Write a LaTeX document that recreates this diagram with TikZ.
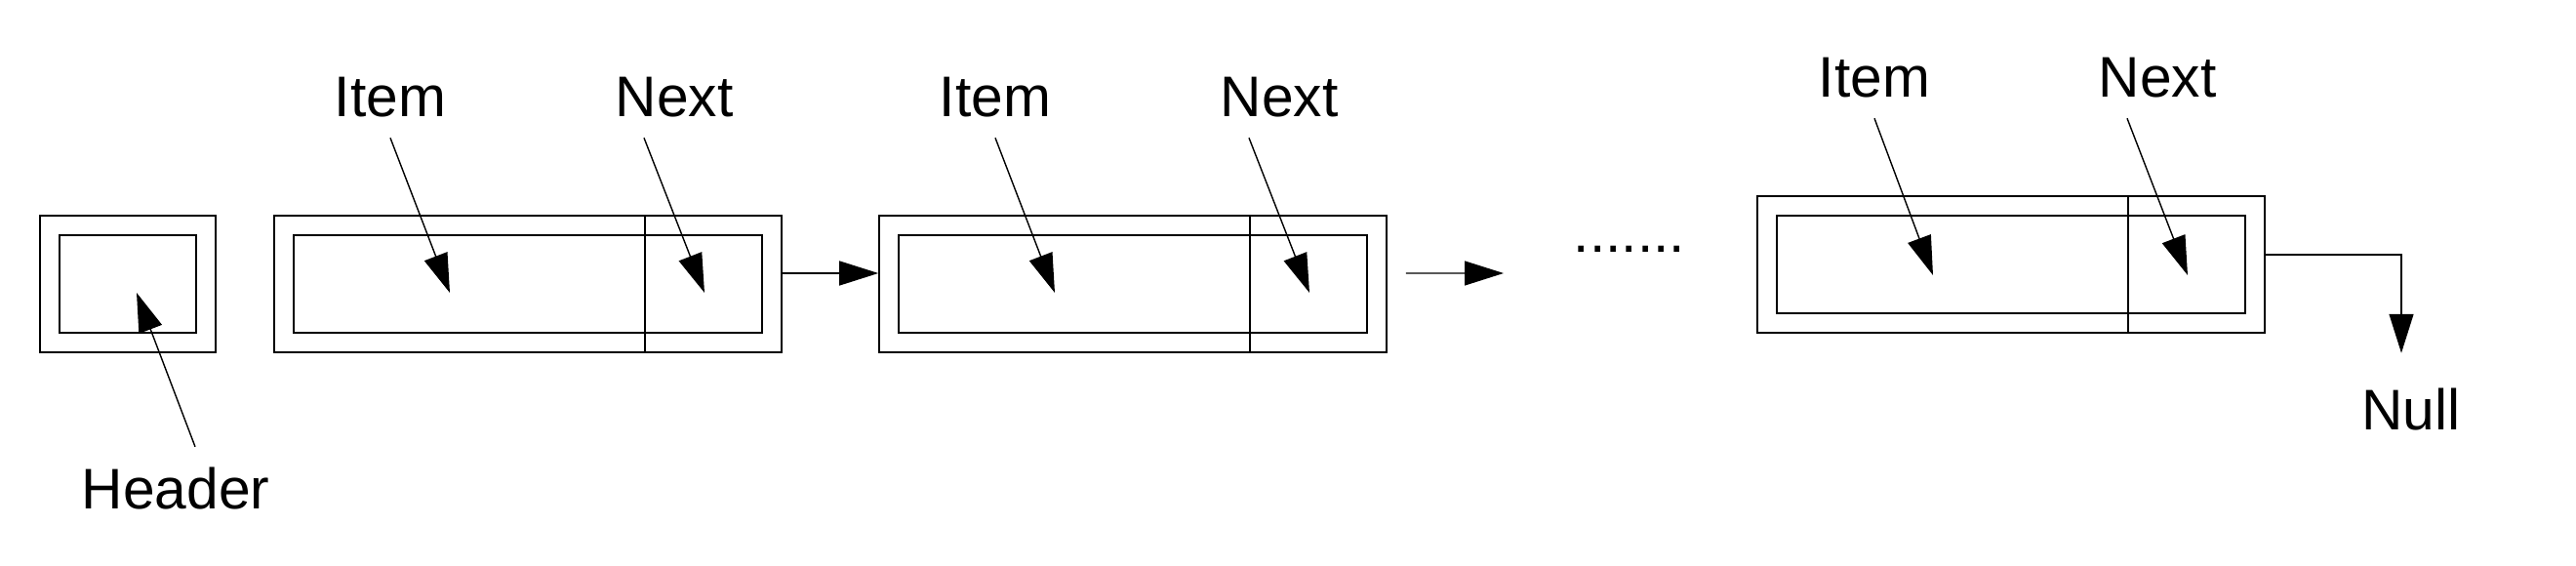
\documentclass[tikz,border=0pt]{standalone}
\usepackage{fontspec}
\setmainfont{Liberation Sans}
\usetikzlibrary{arrows.meta}

\tikzset{
  cell/.style={draw,line width=0.45pt,inner sep=0pt,minimum height=1.4cm},
  cellin/.style={draw,line width=0.45pt,inner sep=0pt,minimum height=1.0cm},
  lbl/.style={font=\fontsize{16.7pt}{20pt}\selectfont,inner sep=2mm,anchor=base},
  ptr/.style={-{Triangle[length=4mm,width=2.5mm]},line width=0.4pt},
}

\begin{document}
\begin{tikzpicture}
\useasboundingbox (0,0) rectangle (26.4,5.8);
% header
\node[cell,minimum width=1.8cm] (hdr) at (1.31,2.89) {};
\node[cellin,minimum width=1.4cm] (hdrin) at (hdr) {};
\node[lbl] (hdrlbl) at (1.80,0.59) {Header};
\coordinate (hdrtip) at (1.40,2.80);
\draw[ptr] ([xshift=2mm]hdrlbl.north) -- (hdrtip);
% first cell
\node[cell,minimum width=5.2cm] (n1) at (5.41,2.89) {};
\node[cellin,minimum width=4.8cm] (n1in) at (n1) {};
\draw[line width=0.45pt] ([xshift=1.2cm]n1.north) -- ([xshift=1.2cm]n1.south);
\node[lbl] (item1) at (4.00,4.60) {Item};
\node[lbl] (next1) at (6.91,4.60) {Next};
\coordinate (item1tip) at (4.61,2.80);
\coordinate (next1tip) at (7.22,2.80);
\draw[ptr] (item1.south) -- (item1tip);
\draw[ptr] ([xshift=-3.1mm]next1.south) -- (next1tip);
% second cell
\node[cell,minimum width=5.2cm] (n2) at (11.61,2.89) {};
\node[cellin,minimum width=4.8cm] (n2in) at (n2) {};
\draw[line width=0.45pt] ([xshift=1.2cm]n2.north) -- ([xshift=1.2cm]n2.south);
\node[lbl] (item2) at (10.20,4.60) {Item};
\node[lbl] (next2) at (13.11,4.60) {Next};
\coordinate (item2tip) at (10.81,2.80);
\coordinate (next2tip) at (13.42,2.80);
\draw[ptr] (item2.south) -- (item2tip);
\draw[ptr] ([xshift=-3.1mm]next2.south) -- (next2tip);
\draw[ptr] ([yshift=1.1mm]n1.east) -- ([yshift=1.1mm]n2.west);
% gap
\coordinate (more) at (15.41,3.00);
\draw[ptr] ([shift={(1.9mm,1.1mm)}]n2.east) -- (more);
\node[lbl] (dots) at (16.70,3.21) {.......};
% last cell
\node[cell,minimum width=5.2cm] (n3) at (20.61,3.09) {};
\node[cellin,minimum width=4.8cm] (n3in) at (n3) {};
\draw[line width=0.45pt] ([xshift=1.2cm]n3.north) -- ([xshift=1.2cm]n3.south);
\node[lbl] (item3) at (19.21,4.80) {Item};
\node[lbl] (next3) at (22.11,4.80) {Next};
\coordinate (item3tip) at (19.81,2.98);
\coordinate (next3tip) at (22.42,2.98);
\draw[ptr] (item3.south) -- (item3tip);
\draw[ptr] ([xshift=-3.1mm]next3.south) -- (next3tip);
% end
\node[lbl] (null) at (24.71,1.40) {Null};
\draw[ptr] ([yshift=1mm]n3.east) -| ([shift={(-1mm,1.5mm)}]null.north);
\end{tikzpicture}
\end{document}
